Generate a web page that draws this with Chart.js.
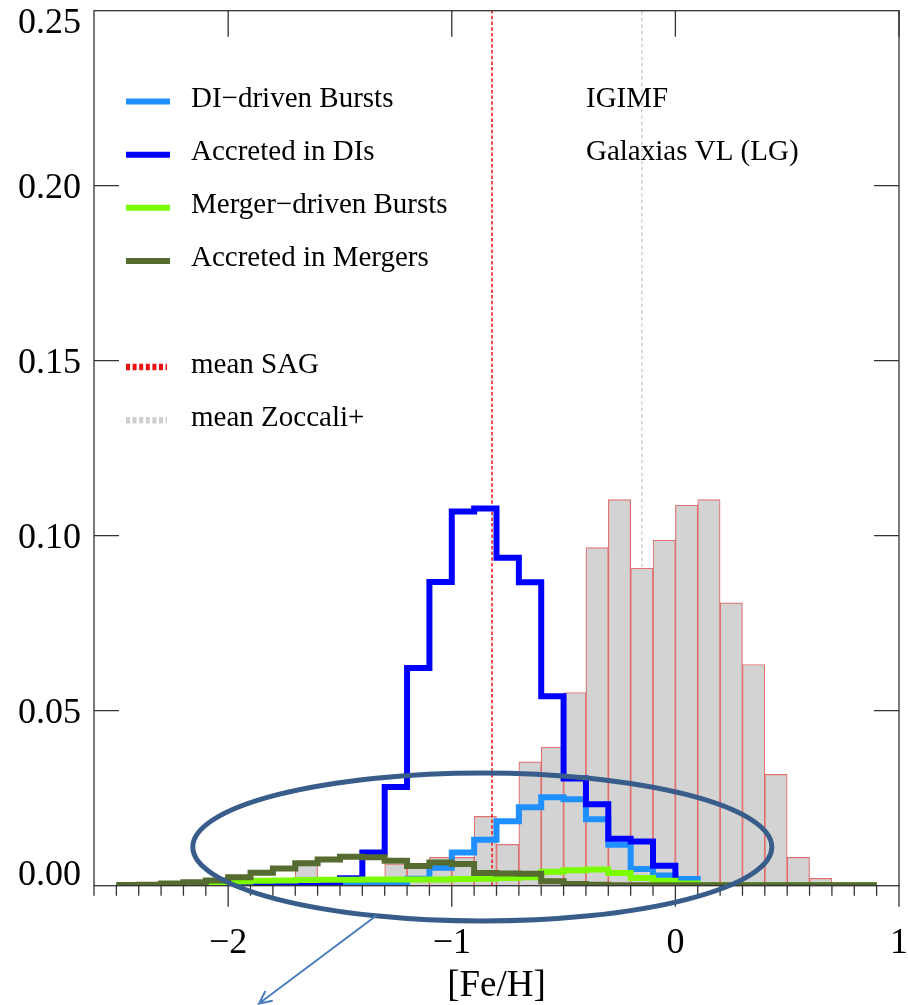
<!DOCTYPE html>
<html>
<head>
<meta charset="utf-8">
<script src="https://cdn.jsdelivr.net/npm/chart.js@4/dist/chart.umd.min.js"></script>
<style>
  html, body { margin: 0; padding: 0; background: #ffffff; }
  canvas { display: block; }
</style>
</head>
<body>
<canvas id="feh" width="908" height="1005"></canvas>
<script>
// ---- data: [Fe/H] histograms, bins of 0.1 dex (left edges) ----
const binEdges = [-2.5, -2.4, -2.3, -2.2, -2.1, -2.0, -1.9, -1.8, -1.7, -1.6,
                  -1.5, -1.4, -1.3, -1.2, -1.1, -1.0, -0.9, -0.8, -0.7, -0.6,
                  -0.5, -0.4, -0.3, -0.2, -0.1, 0.0, 0.1, 0.2, 0.3, 0.4,
                  0.5, 0.6, 0.7, 0.8];
const binWidth = 0.1;

// observed bulge metallicity distribution (grey histogram)
const observedZoccali = [0, 0, 0, 0, 0, 0, 0, 0, 0.0059, 0,
                         0, 0, 0.0062, 0.0055, 0.0081, 0.0081, 0.0198, 0.0118, 0.0354, 0.0396,
                         0.0552, 0.0966, 0.1103, 0.0907, 0.0987, 0.1087, 0.1103, 0.0808, 0.0632, 0.0318,
                         0.0081, 0.0021, 0, 0];

// model components
const diDrivenBursts = [0, 0, 0, 0, 0, 0, 0, 0, 0, 0.0001,
                        0.0004, 0.0004, 0.0008, 0.0020, 0.0051, 0.0095, 0.0131, 0.0184, 0.0224, 0.0253,
                        0.0247, 0.0190, 0.0117, 0.0048, 0.0029, 0.0019, 0, 0, 0, 0,
                        0, 0, 0, 0];
const accretedInDIs = [0, 0, 0, 0.0001, 0.0002, 0.0003, 0.0004, 0.0004, 0.0005, 0.0005,
                       0.0021, 0.0095, 0.0282, 0.0622, 0.0868, 0.1069, 0.1078, 0.0937, 0.0867, 0.0541,
                       0.0306, 0.0233, 0.0134, 0.0126, 0.0057, 0, 0, 0, 0, 0,
                       0, 0, 0, 0];
const mergerDrivenBursts = [0.0002, 0.0002, 0.0002, 0.0002, 0.0002, 0.0012, 0.0014, 0.0015, 0.0016, 0.0017,
                            0.0017, 0.0018, 0.0018, 0.0018, 0.0018, 0.0019, 0.0020, 0.0022, 0.0024, 0.0040,
                            0.0044, 0.0046, 0.0036, 0.0022, 0.0014, 0.0006, 0.0001, 0.0001, 0.0001, 0.0001,
                            0.0001, 0.0001, 0.0001, 0.0001];
const accretedInMergers = [0.0002, 0.0003, 0.0006, 0.0010, 0.0015, 0.0024, 0.0037, 0.0049, 0.0064, 0.0075,
                           0.0083, 0.0081, 0.0071, 0.0056, 0.0066, 0.0062, 0.0036, 0.0035, 0.0034, 0.0013,
                           0.0005, 0.0003, 0.0001, 0.0001, 0.0001, 0.0001, 0.0001, 0.0001, 0.0001, 0.0001,
                           0.0001, 0.0001, 0.0001, 0.0001];

// mean metallicities
const meanSAG = -0.82;
const meanZoccali = -0.15;

// axes
const xRange = [-2.6, 1.0];
const yRange = [0, 0.25];
const xMajorTicks = [-2, -1, 0, 1];
const yMajorTicks = [0, 0.05, 0.10, 0.15, 0.20, 0.25];

// legend / annotation text
const seriesLabels = ['DI\u2212driven Bursts', 'Accreted in DIs', 'Merger\u2212driven Bursts', 'Accreted in Mergers'];
const meanLabels = ['mean SAG', 'mean Zoccali+'];
const infoLines = ['IGIMF', 'Galaxias VL (LG)'];
const xTitle = '[Fe/H]';

// ---- styling ----
const SERIF = '"Liberation Serif", "Times New Roman", serif';
const seriesColors = ['#1E90FF', '#0000FF', '#7CFC00', '#556B2F'];
const meanColors = ['#EE1111', '#CFCFCF'];
const AXIS = '#333333';

// step outline: one point per left edge, plus the closing right edge
function stepPoints(values) {
  const pts = binEdges.map((e, i) => ({ x: e, y: values[i] }));
  pts.push({ x: binEdges[binEdges.length - 1] + binWidth, y: values[values.length - 1] });
  return pts;
}
function stepDataset(label, values, color, order) {
  return {
    type: 'line', label, data: stepPoints(values), stepped: true,
    borderColor: color, backgroundColor: color, borderWidth: 6,
    borderJoinStyle: 'miter', borderCapStyle: 'butt',
    pointRadius: 0, fill: false, order
  };
}
function meanDataset(label, value, color, dash, order) {
  return {
    type: 'line', label, data: [{ x: value, y: yRange[0] }, { x: value, y: yRange[1] }],
    borderColor: color, borderWidth: 1.5, borderDash: dash,
    pointRadius: 0, fill: false, order
  };
}

// frame, ticks, y labels, legend and the hand-drawn annotation
const decorations = {
  id: 'decorations',
  afterDraw(chart) {
    const { ctx, chartArea: a, scales: { x, y } } = chart;
    ctx.save();

    // frame
    ctx.strokeStyle = AXIS;
    ctx.lineWidth = 1.3;
    ctx.strokeRect(a.left, a.top, a.right - a.left, a.bottom - a.top);

    // bottom ticks (outward): minor every 0.1, major at integers
    ctx.beginPath();
    for (let k = Math.round(xRange[0] * 10); k <= Math.round(xRange[1] * 10); k++) {
      const px = x.getPixelForValue(k / 10);
      const len = (k % 10 === 0) ? 21 : 10;
      ctx.moveTo(px, a.bottom);
      ctx.lineTo(px, a.bottom + len);
    }
    // top ticks (inward)
    xMajorTicks.forEach(v => {
      const px = x.getPixelForValue(v);
      ctx.moveTo(px, a.top);
      ctx.lineTo(px, a.top + 26);
    });
    // left/right ticks (inward)
    yMajorTicks.forEach(v => {
      if (v === yRange[0] || v === yRange[1]) return;
      const py = y.getPixelForValue(v);
      ctx.moveTo(a.left, py); ctx.lineTo(a.left + 25, py);
      ctx.moveTo(a.right - 25, py); ctx.lineTo(a.right, py);
    });
    ctx.stroke();

    // y tick labels (end labels kept inside the frame's extent)
    ctx.fillStyle = '#000';
    ctx.font = '36px ' + SERIF;
    ctx.textAlign = 'right';
    ctx.textBaseline = 'alphabetic';
    yMajorTicks.forEach(v => {
      const py = y.getPixelForValue(v);
      let dy = 12.5;
      if (v === yRange[1]) dy = 22.6;
      if (v === yRange[0]) dy = -0.7;
      ctx.fillText(v.toFixed(2), a.left - 13, py + dy);
    });

    // legend
    const lx0 = 126, lx1 = 170, tx = 191, rowH = 53.1, row0 = 101.6;
    ctx.font = '29px ' + SERIF;
    ctx.textAlign = 'left';
    seriesLabels.forEach((lab, i) => {
      const ly = row0 + rowH * i;
      ctx.strokeStyle = seriesColors[i];
      ctx.lineWidth = 6;
      ctx.setLineDash([]);
      ctx.beginPath(); ctx.moveTo(lx0, ly); ctx.lineTo(lx1, ly); ctx.stroke();
      ctx.fillText(lab, tx, ly + 5.5);
    });
    meanLabels.forEach((lab, i) => {
      const ly = row0 + rowH * (i + 5);
      ctx.strokeStyle = meanColors[i];
      ctx.lineWidth = 6.5;
      ctx.setLineDash([4, 2.6]);
      ctx.beginPath(); ctx.moveTo(lx0, ly); ctx.lineTo(lx0 + 41, ly); ctx.stroke();
      ctx.setLineDash([]);
      ctx.fillText(lab, tx, ly + 6);
    });

    // model description
    infoLines.forEach((t, i) => ctx.fillText(t, 586, 107 + 53 * i));

    // highlight ellipse around the low-metallicity tail
    ctx.strokeStyle = '#385D8A';
    ctx.lineWidth = 5;
    ctx.beginPath();
    ctx.ellipse(482.3, 847, 289.5, 74, 0, 0, Math.PI * 2);
    ctx.stroke();

    // pointer arrow
    const sx = 376.5, sy = 915.5, ex = 259, ey = 1003.5;
    const ang = Math.atan2(ey - sy, ex - sx);
    ctx.strokeStyle = '#4A7EBB';
    ctx.lineWidth = 2;
    ctx.beginPath();
    ctx.moveTo(sx, sy); ctx.lineTo(ex, ey);
    ctx.moveTo(ex - 14 * Math.cos(ang - 0.45), ey - 14 * Math.sin(ang - 0.45));
    ctx.lineTo(ex, ey);
    ctx.lineTo(ex - 14 * Math.cos(ang + 0.45), ey - 14 * Math.sin(ang + 0.45));
    ctx.stroke();

    ctx.restore();
  }
};

function draw() {
  new Chart(document.getElementById('feh'), {
    type: 'bar',
    data: {
      datasets: [
        {
          type: 'bar', label: 'Zoccali+',
          data: binEdges.map((e, i) => ({ x: e + binWidth / 2, y: observedZoccali[i] })),
          backgroundColor: '#D3D3D3', borderColor: 'rgba(222, 90, 90, 0.85)',
          borderWidth: 1.2, borderSkipped: 'bottom',
          barPercentage: 1.0, categoryPercentage: 1.0, order: 6
        },
        meanDataset(meanLabels[0], meanSAG, meanColors[0], [3.5, 2.2], 5),
        meanDataset(meanLabels[1], meanZoccali, meanColors[1], [3.5, 3], 5),
        stepDataset(seriesLabels[0], diDrivenBursts, seriesColors[0], 4),
        stepDataset(seriesLabels[1], accretedInDIs, seriesColors[1], 3),
        stepDataset(seriesLabels[2], mergerDrivenBursts, seriesColors[2], 2),
        stepDataset(seriesLabels[3], accretedInMergers, seriesColors[3], 1)
      ]
    },
    options: {
      responsive: false,
      devicePixelRatio: 1,
      animation: false,
      layout: { padding: { left: 94, top: 10.7, right: 9, bottom: 0 } },
      plugins: { legend: { display: false }, tooltip: { enabled: false } },
      scales: {
        x: {
          type: 'linear', min: xRange[0], max: xRange[1], offset: false,
          grid: { display: false, drawTicks: false, offset: false },
          border: { display: false },
          afterBuildTicks: s => { s.ticks = xMajorTicks.map(v => ({ value: v })); },
          afterFit: s => {
            s.height = 1005 - 885.7;
            s.paddingLeft = 0;
            s.paddingRight = 0;
          },
          ticks: {
            autoSkip: false, maxRotation: 0, padding: 36.5, color: '#000',
            font: { family: SERIF, size: 36 },
            callback: v => (v < 0 ? '\u2212' + Math.abs(v) : String(v))
          },
          title: {
            display: true, text: xTitle, color: '#000',
            font: { family: SERIF, size: 37 }, padding: { top: 0, bottom: -3 }
          }
        },
        y: {
          type: 'linear', min: yRange[0], max: yRange[1], display: false
        }
      }
    },
    plugins: [decorations]
  });
}

if (document.fonts && document.fonts.load) {
  document.fonts.load('36px "Liberation Serif"').then(draw, draw);
} else {
  draw();
}
</script>
</body>
</html>
